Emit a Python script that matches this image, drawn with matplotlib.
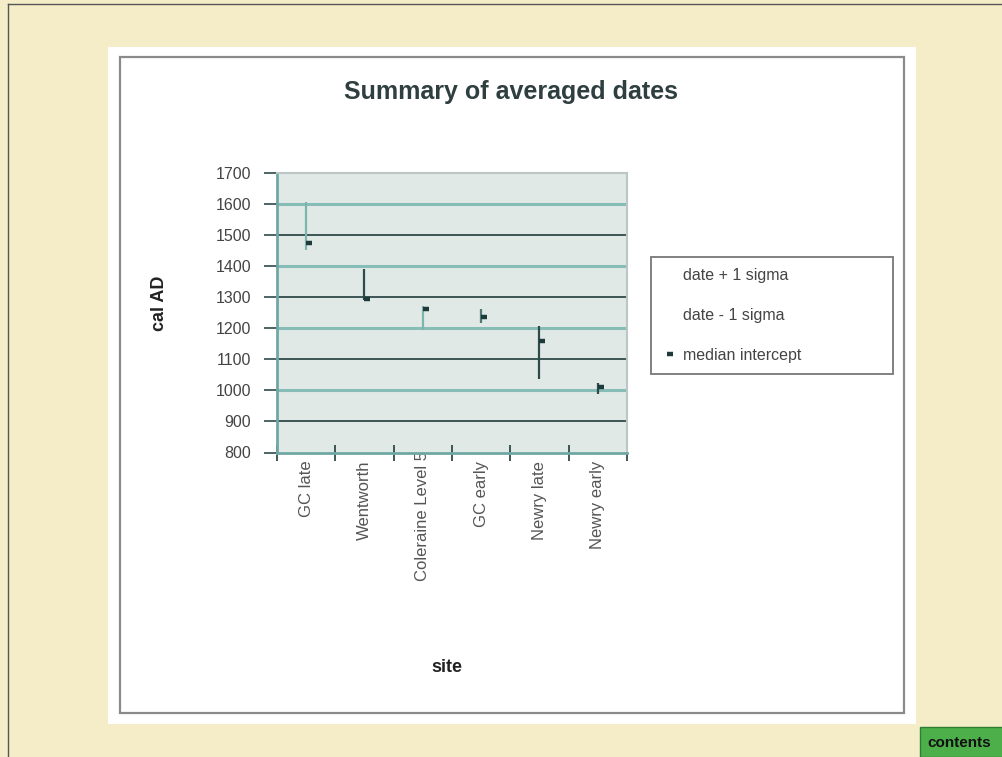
import matplotlib
matplotlib.use("Agg")
import matplotlib.pyplot as plt
from matplotlib.patches import Rectangle
from matplotlib.lines import Line2D
import matplotlib.transforms as mtransforms
import numpy as np

# ---- data ----
sites = ["GC late", "Wentworth", "Coleraine Level 5", "GC early", "Newry late", "Newry early"]
date_plus_1_sigma = [1608, 1390, 1273, 1264, 1208, 1025]
date_minus_1_sigma = [1453, 1291, 1195, 1216, 1038, 988]
median_intercept = [1474, 1295, 1262, 1237, 1159, 1010]
y_ticks = [800, 900, 1000, 1100, 1200, 1300, 1400, 1500, 1600, 1700]

# ---- styles ----
line_colors = ["#7DB4AE", "#2E4A4A", "#7DB4AE", "#4E7A76", "#2E4A4A", "#2E4A4A"]
teal = "#86BDB7"
dark = "#2E4A4A"
font = "Liberation Sans"
plt.rcParams["font.family"] = [font, "DejaVu Sans"]

W, H = 1003, 757
fig = plt.figure(figsize=(W / 100, H / 100), dpi=100)
fig.patch.set_facecolor("#F5EDC8")


def fx(px):
    return px / W


def fy(py):
    return 1 - py / H


# page border lines
fig.add_artist(Line2D([fx(8), fx(8)], [0, fy(4)], color="#555555", lw=1))
fig.add_artist(Line2D([fx(8), 1], [fy(4), fy(4)], color="#555555", lw=1))
# white panel
fig.add_artist(Rectangle((fx(108), fy(724)), (916 - 108) / W, (724 - 47) / H,
                         transform=fig.transFigure, facecolor="white",
                         edgecolor="none", zorder=0))
# chart frame
fig.add_artist(Rectangle((fx(120), fy(713)), (904 - 120) / W, (713 - 57) / H,
                         transform=fig.transFigure, fill=False,
                         edgecolor="#8A8A8A", lw=1.6, zorder=1))

# contents button
fig.add_artist(Rectangle((fx(920), 0), (W - 920) / W, (757 - 727) / H,
                         transform=fig.transFigure, facecolor="#4DAF4A",
                         edgecolor="#2E7D32", lw=1, zorder=1))
fig.text(fx(927), fy(743), "contents", fontsize=11, fontweight="bold",
         color="#111111", ha="left", va="center")

# ---- axes ----
ax = fig.add_axes([fx(277), fy(452.5), (627 - 277) / W, (452.5 - 173.3) / H])
ax.set_facecolor("#E1E9E7")
ax.set_xlim(-0.5, 5.5)
ax.set_ylim(800, 1700)

x = np.arange(len(sites))
ax.vlines(x, date_minus_1_sigma, date_plus_1_sigma, colors=line_colors,
          lw=1.6, zorder=3)
ax.plot(x, median_intercept, linestyle="none", marker=1, ms=4.5, mew=3.2,
        color="#1E3B3B", zorder=4)

# ticks
ax.set_yticks(y_ticks)
ax.tick_params(axis="y", direction="out", length=9.5, width=1.2, color=dark,
               pad=9, labelsize=11.5, labelcolor="#444444")
ax.set_xticks(x)
ax.set_xticklabels(sites, rotation=90, va="top", ha="center")
ax.tick_params(axis="x", which="major", length=0, pad=6, labelsize=12,
               labelcolor="#555555")
ax.set_xticks(np.arange(-0.5, 6, 1), minor=True)
ax.tick_params(axis="x", which="minor", direction="inout", length=11,
               width=1.3, color=dark)

# shift the long label upward (it overflows the axis in the original)
lab = ax.get_xticklabels()[2]
lab.set_transform(lab.get_transform() +
                  mtransforms.ScaledTranslation(0, 0.10, fig.dpi_scale_trans))

# grid lines alternating teal / dark
ax.grid(axis="y", which="major")
for val, gl in zip(y_ticks, ax.yaxis.get_gridlines()):
    if val == y_ticks[-1] or val == y_ticks[0]:
        gl.set_visible(False)
    elif (val // 100) % 2 == 0:
        gl.set_color(teal)
        gl.set_linewidth(2.2)
    else:
        gl.set_color(dark)
        gl.set_linewidth(1.3)
ax.set_axisbelow(True)

for side in ("left", "bottom"):
    ax.spines[side].set_color("#6FA8A2")
    ax.spines[side].set_linewidth(2)
for side in ("top", "right"):
    ax.spines[side].set_color("#BCC6C4")
    ax.spines[side].set_linewidth(1.5)

# ---- texts ----
fig.text(fx(511), fy(92), "Summary of averaged dates", fontsize=18,
         fontweight="bold", color="#2F3F3F", ha="center", va="center")
fig.text(fx(160), fy(303), "cal AD", fontsize=13, fontweight="bold",
         color="#222222", rotation=90, ha="center", va="center")
fig.text(fx(447), fy(667), "site", fontsize=13, fontweight="bold",
         color="#222222", ha="center", va="center")

# ---- legend ----
handles = [
    Line2D([], [], linestyle="none", label="date + 1 sigma"),
    Line2D([], [], linestyle="none", label="date - 1 sigma"),
    Line2D([], [], linestyle="none", marker=1, ms=4.5, mew=3.2,
           color="#1E3B3B", label="median intercept"),
]
leg = fig.legend(handles=handles, loc="upper left",
                 bbox_to_anchor=(fx(651), fy(257), (893 - 651) / W, 0.0),
                 mode="expand", fontsize=11.5, labelspacing=1.55,
                 borderpad=0.7, handlelength=0.55, handletextpad=0.75,
                 frameon=True, fancybox=False, framealpha=1,
                 edgecolor="#777777", facecolor="white", labelcolor="#444444",
                 borderaxespad=0)
leg.get_frame().set_linewidth(1.3)

fig.savefig("out.png", dpi=100, facecolor=fig.get_facecolor())
